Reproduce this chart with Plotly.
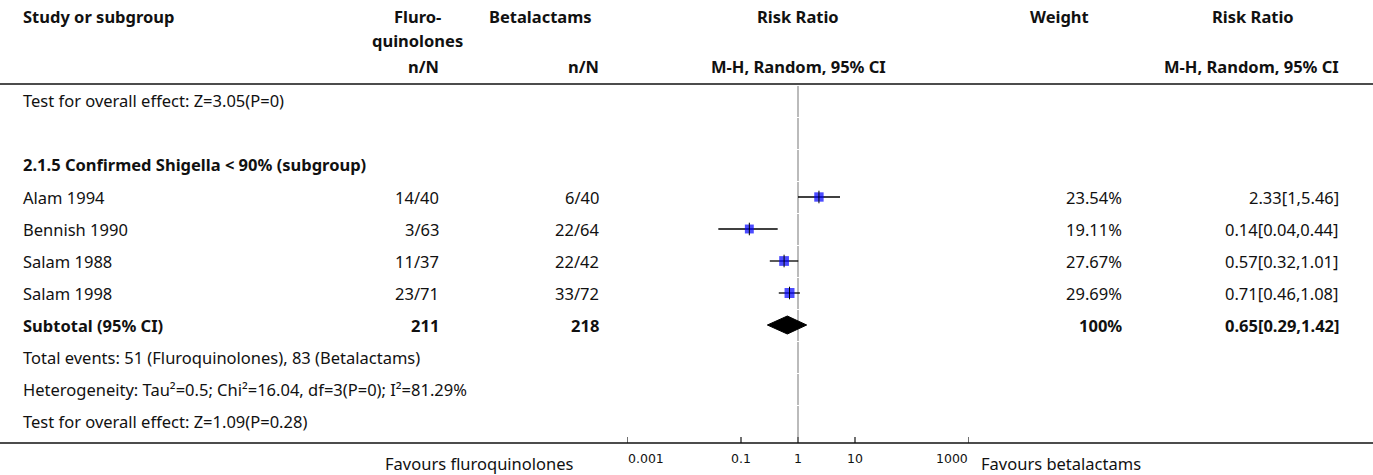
import math
import plotly.graph_objects as go

# ---- data ----
studies = ["Alam 1994", "Bennish 1990", "Salam 1988", "Salam 1998"]
fq_events = ["14/40", "3/63", "11/37", "23/71"]
bl_events = ["6/40", "22/64", "22/42", "33/72"]
rr = [2.33, 0.14, 0.57, 0.71]
rr_lo = [1.0, 0.04, 0.32, 0.46]
rr_hi = [5.46, 0.44, 1.01, 1.08]
weights = [23.54, 19.11, 27.67, 29.69]

sub_fq_total = 211
sub_bl_total = 218
sub_rr, sub_lo, sub_hi = 0.65, 0.29, 1.42

tick_vals = [0.001, 0.1, 1, 10, 1000]
tick_text = ["0.001", "0.1", "1", "10", "1000"]

W, H = 1373, 475
FONT = "Noto Sans"
FS = 16.5
ROW0 = 101      # centre of first body row (px)
PITCH = 32      # row height (px)
AXIS_Y = 443

def px(x):
    return x / W

def py(y):
    return 1 - y / H

def row_y(k):
    return ROW0 + PITCH * k

fig = go.Figure()
ann = []

def text(x, y, s, anchor="left", bold=False, size=FS):
    if bold:
        s = "<b>" + s + "</b>"
    ann.append(dict(x=px(x), y=py(y), xref="paper", yref="paper", text=s,
                    showarrow=False, xanchor=anchor, yanchor="middle",
                    align=anchor, borderpad=0,
                    font=dict(family=FONT, size=size, color="#111")))

# header
text(22, 17, "Study or subgroup", bold=True)
text(418, 17, "Fluro-", "center", bold=True)
text(418, 40, "quinolones", "center", bold=True)
text(440, 67, "n/N", "right", bold=True)
text(540, 17, "Betalactams", "center", bold=True)
text(600, 67, "n/N", "right", bold=True)
text(798, 17, "Risk Ratio", "center", bold=True)
text(798, 67, "M-H, Random, 95% CI", "center", bold=True)
text(1059, 17, "Weight", "center", bold=True)
text(1253, 17, "Risk Ratio", "center", bold=True)
text(1340, 67, "M-H, Random, 95% CI", "right", bold=True)

# body rows
text(22, row_y(0), "Test for overall effect: Z=3.05(P=0)")
text(22, row_y(2), "2.1.5 Confirmed Shigella &lt; 90% (subgroup)", bold=True)
for i, name in enumerate(studies):
    y = row_y(3 + i)
    text(22, y, name)
    text(440, y, fq_events[i], "right")
    text(600, y, bl_events[i], "right")
    text(1123, y, f"{weights[i]:.2f}%", "right")
    text(1340, y, f"{rr[i]:g}[{rr_lo[i]:g},{rr_hi[i]:g}]", "right")

ys = row_y(7)
text(22, ys, "Subtotal (95% CI)", bold=True)
text(440, ys, str(sub_fq_total), "right", bold=True)
text(600, ys, str(sub_bl_total), "right", bold=True)
text(1123, ys, "100%", "right", bold=True)
text(1340, ys, f"{sub_rr:g}[{sub_lo:g},{sub_hi:g}]", "right", bold=True)
text(22, row_y(8), "Total events: 51 (Fluroquinolones), 83 (Betalactams)")
text(22, row_y(9), "Heterogeneity: Tau²=0.5; Chi²=16.04, df=3(P=0); I²=81.29%")
text(22, row_y(10), "Test for overall effect: Z=1.09(P=0.28)")

# footer
text(575, 463, "Favours fluroquinolones", "right")
text(980, 463, "Favours betalactams", "left")

# axis tick labels placed on the log axis; end labels sit inside the axis span
for j, (v, t) in enumerate(zip(tick_vals, tick_text)):
    anchor = "left" if j == 0 else ("right" if j == len(tick_vals) - 1 else "center")
    ann.append(dict(x=math.log10(v), y=py(458), xref="x", yref="paper", text=t,
                    showarrow=False, xanchor=anchor, yanchor="middle",
                    align=anchor, borderpad=0,
                    font=dict(family="DejaVu Sans", size=12.5, color="#111")))

shapes = []
# horizontal rules
for yy in (84, AXIS_Y):
    shapes.append(dict(type="line", xref="paper", yref="paper",
                       x0=0, x1=1, y0=py(yy), y1=py(yy),
                       line=dict(color="#111", width=1.5)))
# tick marks rising from the axis rule
for v in tick_vals:
    shapes.append(dict(type="line", xref="x", yref="paper", x0=v, x1=v,
                       y0=py(AXIS_Y), y1=py(AXIS_Y - 6),
                       line=dict(color="#111", width=1.2)))
# line of no effect, broken at row boundaries
for k in range(11):
    top = 85 + PITCH * k + 1
    bot = min(85 + PITCH * (k + 1), AXIS_Y - 1)
    shapes.append(dict(type="line", xref="x", yref="y", x0=1, x1=1,
                       y0=top, y1=bot, layer="below",
                       line=dict(color="#aaaaaa", width=1.6)))

# study estimates with confidence intervals
study_y = [row_y(3 + i) for i in range(len(studies))]
for i in range(len(studies)):
    fig.add_trace(go.Scatter(x=[rr_lo[i], rr_hi[i]], y=[study_y[i]] * 2,
                             mode="lines", line=dict(color="black", width=1.3),
                             hoverinfo="skip"))
sizes = [7 + w * 0.1 for w in weights]
fig.add_trace(go.Scatter(x=rr, y=study_y, mode="markers",
                         marker=dict(symbol="square", size=sizes, color="#0000ff",
                                     line=dict(width=0))))
fig.add_trace(go.Scatter(x=rr, y=study_y, mode="markers",
                         marker=dict(symbol="line-ns", size=9,
                                     line=dict(width=1, color="black"))))

# pooled estimate diamond
fig.add_trace(go.Scatter(x=[sub_lo, sub_rr, sub_hi, sub_rr, sub_lo],
                         y=[ys, ys - 9, ys, ys + 9, ys],
                         mode="lines", fill="toself", fillcolor="black",
                         line=dict(color="black", width=1)))

fig.update_layout(
    width=W, height=H, margin=dict(l=0, r=0, t=0, b=0),
    paper_bgcolor="white", plot_bgcolor="rgba(0,0,0,0)",
    showlegend=False, annotations=ann, shapes=shapes,
    xaxis=dict(type="log", range=[-3, 3], domain=[627 / W, 969 / W],
               tickvals=tick_vals, ticks="", showgrid=False,
               zeroline=False, showline=False, showticklabels=False),
    yaxis=dict(range=[AXIS_Y, 0], domain=[(H - AXIS_Y) / H, 1],
               visible=False, showgrid=False, zeroline=False),
)

fig.write_html("out.html")
